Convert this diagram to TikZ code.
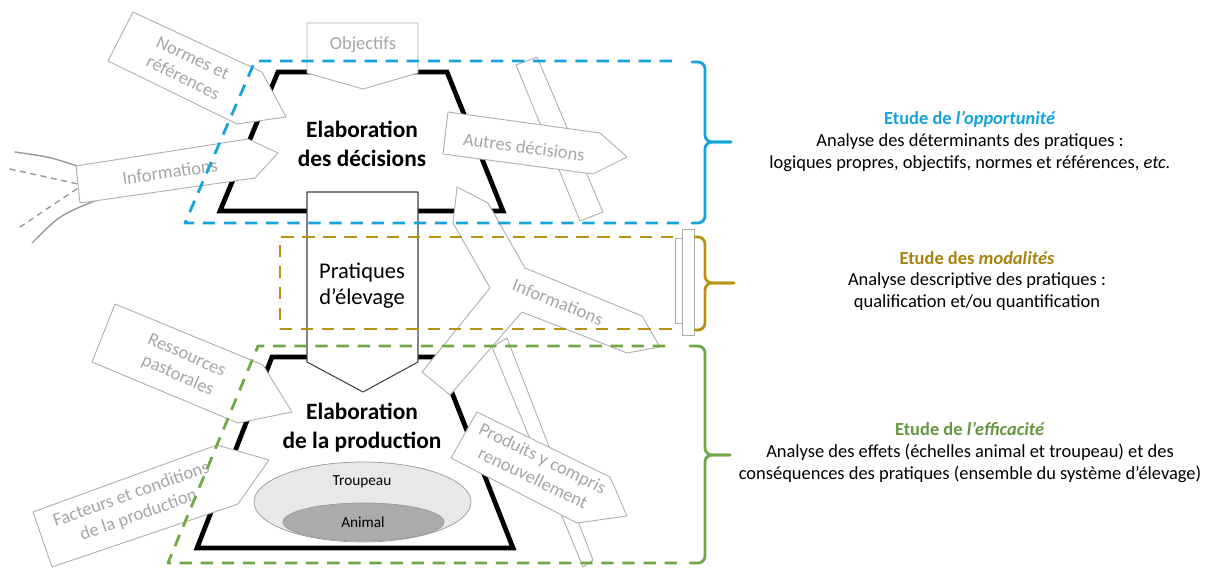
\documentclass[tikz,border=0pt]{standalone}
\usepackage{fontspec}
\setmainfont{Carlito}
\definecolor{cblue}{RGB}{22,163,219}
\definecolor{cgold}{RGB}{184,146,14}
\definecolor{cgreen}{RGB}{112,168,72}
\begin{document}
\begin{tikzpicture}[x=0.02cm, y=-0.02cm, line join=round, line cap=round,
	greyarrow/.style={draw=black!32, fill=white, line width=0.5pt},
	greylabel/.style={text=black!35, font=\fontsize{10.5}{12.5}\selectfont, align=center},
	frame/.style={line width=2.7pt, line join=miter},
	zone/.style={line width=1.6pt, line cap=butt, dash pattern=on 7pt off 5pt},
	brace/.style={line width=1.6pt, rounded corners=4pt},
	study/.style={align=center, font=\fontsize{10.5}{12.5}\selectfont}]
	\useasboundingbox (0,0) rectangle (1211,570);
	\draw[frame] (278,72)--(447,72)--(503,211)--(220,211)--cycle;
	\draw[frame] (272,357)--(438,357)--(513,548)--(197,548)--cycle;
	\draw[black!40, fill=black!9] (362.5,502) ellipse [x radius=108.5, y radius=40];
	\draw[black!40, fill=black!33] (363.5,522) ellipse [x radius=80.5, y radius=19];
	\node[font=\fontsize{8.7}{10}\selectfont] at (362,482) {Troupeau};
	\node[font=\fontsize{8.7}{10}\selectfont] at (363,522) {Animal};
	\draw[greyarrow] (516,65)--(537,57)--(603,212)--(580,221)--cycle;
	\draw[greyarrow] (492,347)--(507,338)--(593,560)--(583,567)--cycle;
	\draw[black!40, line width=0.8pt] (15,152) .. controls (50,157) .. (77,166);
	\draw[black!40, line width=0.8pt] (32,243) .. controls (60,215) .. (97,200);
	\draw[black!40, line width=0.8pt, dashed] (10,169)--(78,184) (20,227)--(78,188);
	\draw[greyarrow] (133,12)--(262,72)--(286,117)--(237,124)--(108,61)--cycle;
	\node[greylabel, rotate=-26] at (188,68) {Normes et\\références};
	\draw[greyarrow] (307,23)--(418,23)--(418,73)--(363,89)--(307,73)--cycle;
	\node[greylabel] at (363,45) {Objectifs};
	\draw[greyarrow] (76,166)--(248,139)--(278,153)--(255,178)--(80,203)--cycle;
	\node[greylabel, rotate=8] at (170,172) {Informations};
	\draw[greyarrow] (448,112)--(600,133)--(627,157)--(593,174)--(443,154)--cycle;
	\node[greylabel, rotate=-7.5] at (524,147) {Autres décisions};
	\draw[greyarrow] (115,304)--(263,365)--(292,412)--(238,423)--(92,362)--cycle;
	\node[greylabel, rotate=-24] at (182,366) {Ressources\\pastorales};
	\draw[greyarrow] (33,512)--(217,445)--(269,460)--(238,504)--(52,567)--cycle;
	\node[greylabel, rotate=19.5] at (135,505) {Facteurs et conditions\\de la production};
	\draw[greyarrow] (477,412)--(610,477)--(627,516)--(577,523)--(451,458)--cycle;
	\node[greylabel, rotate=-26] at (538,468) {Produits y compris\\renouvellement};
	\draw[draw=black!75, fill=white, line width=0.6pt] (307,192)--(418,192)--(418,362)--(363,392)--(307,362)--cycle;
	\node[align=center, font=\fontsize{12.8}{14.7}\selectfont] at (362,286) {Pratiques\\d’élevage};
	\draw[greyarrow] (457,187)--(488,203)--(525,268)--(642,316)--(660,347)--(627,353)--(522,312)--(450,395)--(422,372)--(490,288)--(453,223)--cycle;
	\node[greylabel, rotate=-22] at (558,302) {Informations};
	\node[align=center, font=\fontsize{13.3}{16.4}\selectfont\bfseries] at (362,144) {Elaboration\\des décisions};
	\node[align=center, font=\fontsize{13.3}{16.4}\selectfont\bfseries] at (362,428) {Elaboration\\de la production};
	\draw[zone, cblue] (672,61)--(255,61)--(185,223)--(680,223);
	\draw[zone, cgold] (673,237)--(280,237)--(280,329)--(675,329);
	\draw[zone, cgreen] (665,346)--(258,346)--(168,563)--(682,563);
	\draw[greyarrow] (675,238) rectangle (694,323);
	\draw[greyarrow] (682,229) rectangle (694,335);
	\draw[brace, cblue] (692,62)-|(705,142)--(731,142);
	\draw[brace, cblue] (731,142)--(705,142)|-(692,223);
	\draw[brace, cgold] (695,237)-|(705,283)--(734,283);
	\draw[brace, cgold] (734,283)--(705,283)|-(695,330);
	\draw[brace, cgreen] (690,346)-|(705,455)--(730,455);
	\draw[brace, cgreen] (730,455)--(705,455)|-(690,563);
	\node[study] at (970,141) {{\color{cblue}\bfseries Etude de \textit{l’opportunité}}\\Analyse des déterminants des pratiques :\\logiques propres, objectifs, normes et références, \textit{etc.}};
	\node[study] at (977,281) {{\color{cgold!90!black}\bfseries Etude des \textit{modalités}}\\Analyse descriptive des pratiques :\\qualification et/ou quantification};
	\node[study] at (970,452) {{\color{cgreen!90!black}\bfseries Etude de \textit{l’efficacité}}\\Analyse des effets (échelles animal et troupeau) et des\\conséquences des pratiques (ensemble du système d’élevage)};
\end{tikzpicture}
\end{document}
